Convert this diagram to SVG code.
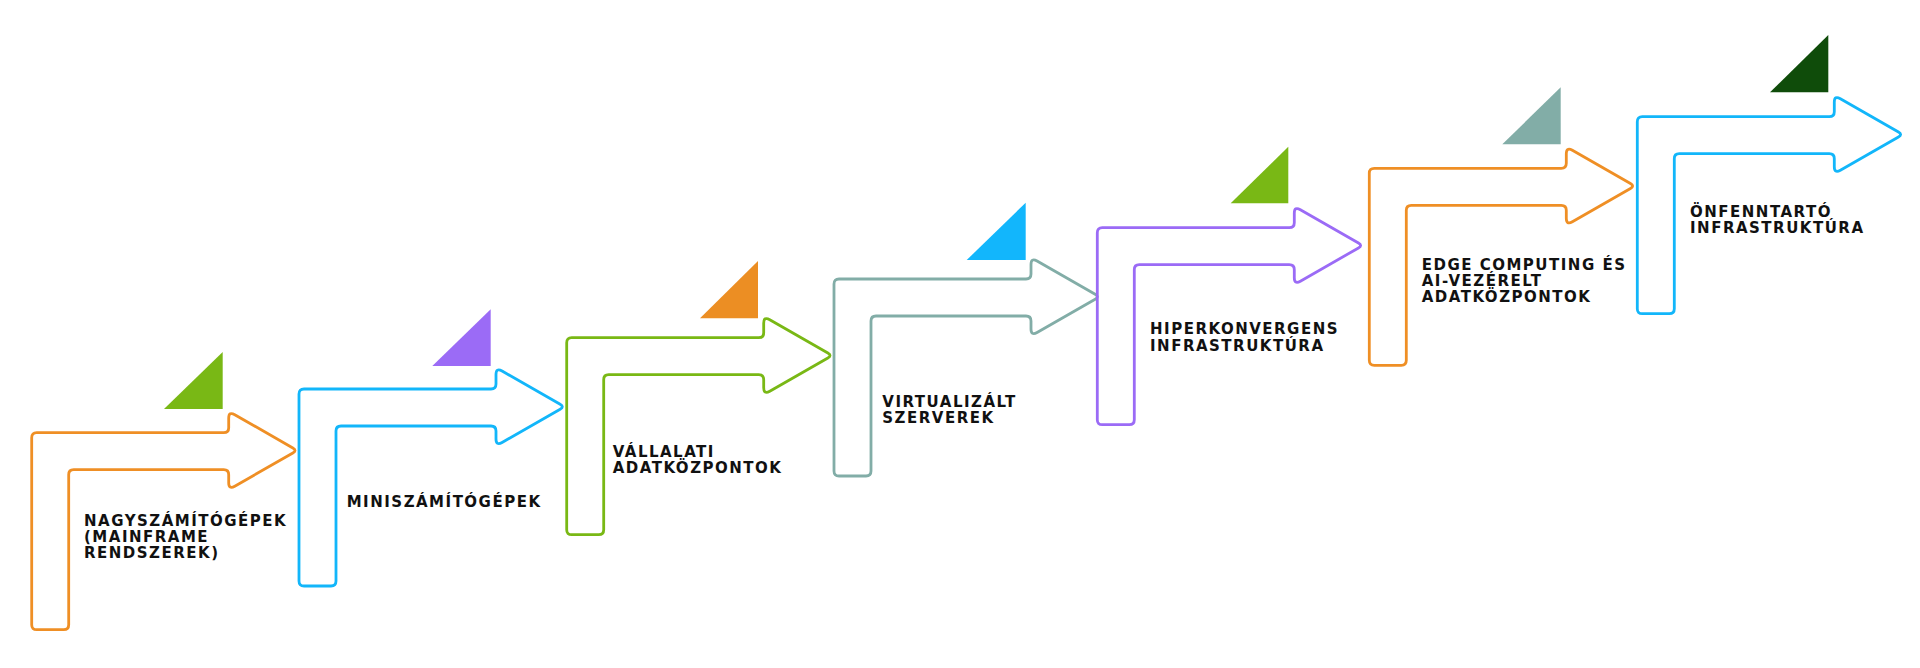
<svg xmlns="http://www.w3.org/2000/svg" xmlns:xlink="http://www.w3.org/1999/xlink" width="1920" height="668" viewBox="0 0 1920 668">
<style>
.arr{fill:none;stroke-width:2.8;stroke-linejoin:round}
.orange{stroke:#EF8F25}.cyan{stroke:#12B6FA}.green{stroke:#79B815}.teal{stroke:#82ADA7}.purple{stroke:#9B6BF6}
.lbl{font-family:"DejaVu Sans","Liberation Sans",sans-serif;font-weight:700;font-size:15px;letter-spacing:1.5px;fill:#111111}
</style>
<defs>
<path id="arrow" d="M5,0 H192 Q197,0 197,-5 V-14.5 Q197,-21.5 203.07,-18.02 L261.16,15.26 Q265.5,17.75 261.16,20.24 L203.07,53.52 Q197,57 197,50 V42 Q197,37 192,37 H42 Q37,37 37,42 V192 Q37,197 32,197 H5 Q0,197 0,192 V5 Q0,0 5,0 Z"/>
</defs>
<rect width="1920" height="668" fill="#ffffff"/>
<g id="node1">
<use xlink:href="#arrow" href="#arrow" class="arr orange" transform="translate(31.7,432.7)"/>
<polygon points="164,409 222.7,409 222.7,352" fill="#79B815"/>
<text class="lbl" x="84" y="526">NAGYSZÁMÍTÓGÉPEK</text>
<text class="lbl" x="84" y="542">(MAINFRAME</text>
<text class="lbl" x="84" y="558">RENDSZEREK)</text>
</g>
<g id="node2">
<use xlink:href="#arrow" href="#arrow" class="arr cyan" transform="translate(299,389)"/>
<polygon points="432.3,366 490.7,366 490.7,309.3" fill="#9B6BF6"/>
<text class="lbl" x="346.7" y="507">MINISZÁMÍTÓGÉPEK</text>
</g>
<g id="node3">
<use xlink:href="#arrow" href="#arrow" class="arr green" transform="translate(566.7,337.7)"/>
<polygon points="700,318.3 758,318.3 758,261" fill="#EC8E23"/>
<text class="lbl" x="612.7" y="457.3">VÁLLALATI</text>
<text class="lbl" x="612.7" y="473.3">ADATKÖZPONTOK</text>
</g>
<g id="node4">
<use xlink:href="#arrow" href="#arrow" class="arr teal" transform="translate(834,279)"/>
<polygon points="966.7,260 1025.7,260 1025.7,202.7" fill="#12B6FC"/>
<text class="lbl" x="882.3" y="406.7">VIRTUALIZÁLT</text>
<text class="lbl" x="882.3" y="422.7">SZERVEREK</text>
</g>
<g id="node5">
<use xlink:href="#arrow" href="#arrow" class="arr purple" transform="translate(1097.3,227.7)"/>
<polygon points="1230.7,203.3 1288.3,203.3 1288.3,146.7" fill="#79B815"/>
<text class="lbl" x="1150" y="334.3">HIPERKONVERGENS</text>
<text class="lbl" x="1150" y="350.5">INFRASTRUKTÚRA</text>
</g>
<g id="node6">
<use xlink:href="#arrow" href="#arrow" class="arr orange" transform="translate(1369.3,168.3)"/>
<polygon points="1502.3,144.3 1560.7,144.3 1560.7,87.3" fill="#82ADA7"/>
<text class="lbl" x="1421.7" y="270">EDGE COMPUTING ÉS</text>
<text class="lbl" x="1421.7" y="286">AI-VEZÉRELT</text>
<text class="lbl" x="1421.7" y="302">ADATKÖZPONTOK</text>
</g>
<g id="node7">
<use xlink:href="#arrow" href="#arrow" class="arr cyan" transform="translate(1637.3,116.7)"/>
<polygon points="1770,92.3 1828.3,92.3 1828.3,35" fill="#0F4C0A"/>
<text class="lbl" x="1690" y="217.3">ÖNFENNTARTÓ</text>
<text class="lbl" x="1690" y="233.3">INFRASTRUKTÚRA</text>
</g>
</svg>
